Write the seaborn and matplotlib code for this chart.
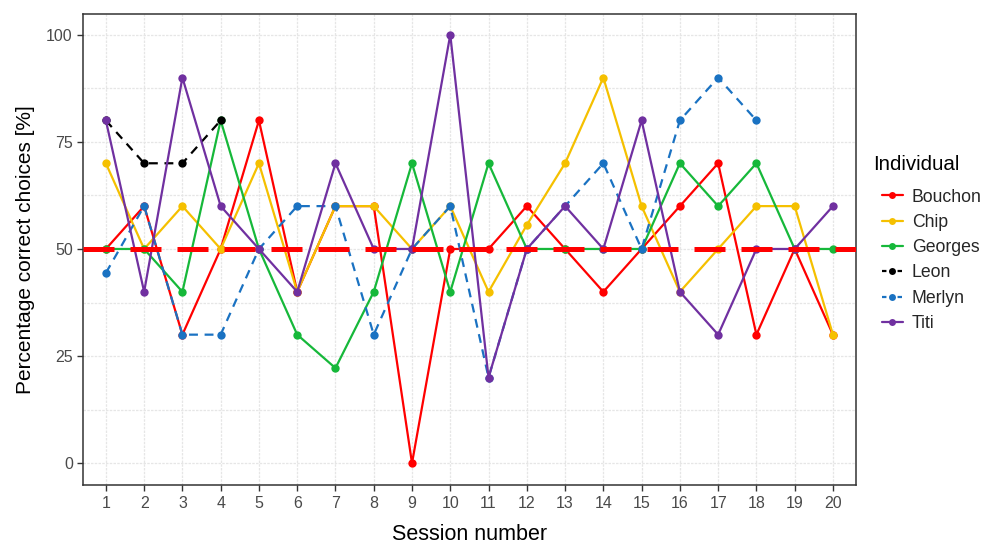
import numpy as np
import pandas as pd
import matplotlib
matplotlib.use("Agg")
import matplotlib.pyplot as plt
import seaborn as sns
from matplotlib.lines import Line2D

sessions = list(range(1, 21))
bouchon = [50, 60, 30, 50, 80, 40, 60, 60, 0, 50, 50, 60, 50, 40, 50, 60, 70, 30, 50, 30]
chip    = [70, 50, 60, 50, 70, 40, 60, 60, 50, 60, 40, 55.6, 70, 90, 60, 40, 50, 60, 60, 30]
georges = [50, 50, 40, 80, 50, 30, 22.2, 40, 70, 40, 70, 50, 50, 50, 50, 70, 60, 70, 50, 50]
leon    = [80, 70, 70, 80]
merlyn  = [44.4, 60, 30, 30, 50, 60, 60, 30, 50, 60, 20, 50, 60, 70, 50, 80, 90, 80]
titi    = [80, 40, 90, 60, 50, 40, 70, 50, 50, 100, 20, 50, 60, 50, 80, 40, 30, 50, 50, 60]

individuals = ["Bouchon", "Chip", "Georges", "Leon", "Merlyn", "Titi"]
series = [bouchon, chip, georges, leon, merlyn, titi]
colors = ["#FF0000", "#F5C000", "#16B83A", "#000000", "#1A72C2", "#7030A0"]
chance_level = 50

rows = []
for name, vals in zip(individuals, series):
    for s, v in zip(sessions, vals):
        rows.append({"Session": s, "Pct": v, "Individual": name})
df = pd.DataFrame(rows)

sns.set_theme(style="white")
plt.rcParams["font.family"] = ["Liberation Sans", "DejaVu Sans"]

fig = plt.figure(figsize=(9.88, 5.45), dpi=100)
ax = fig.add_axes([0.0843, 0.110, 0.782, 0.864])

palette = dict(zip(individuals, colors))
dashes = {"Bouchon": "", "Chip": "", "Georges": "", "Leon": (4, 3), "Merlyn": (4, 3), "Titi": ""}
markers = {n: "o" for n in individuals}

# grid
for y in np.arange(0, 101, 12.5):
    ax.axhline(y, color="#e6e6e6", lw=0.9, ls=(0, (2, 1)), zorder=0)
for x in sessions:
    ax.axvline(x, color="#e6e6e6", lw=0.9, ls=(0, (2, 1)), zorder=0)

sns.lineplot(data=df, x="Session", y="Pct", hue="Individual", style="Individual",
             palette=palette, dashes=dashes, markers=markers, markersize=6,
             markeredgewidth=0, linewidth=1.6, legend=False, ax=ax, zorder=3)

ax.axhline(chance_level, color="#FF0000", lw=3.6, ls=(0, (6.2, 3.2)), zorder=4)

ax.set_xlim(0.41, 20.6)
ax.set_ylim(-5.1, 104.8)
ax.set_xticks(sessions)
ax.set_xticklabels([str(s) for s in sessions])
ax.set_yticks([0, 25, 50, 75, 100])
ax.tick_params(axis="both", which="major", length=4, width=1, color="#333333",
               labelsize=11.5, labelcolor="#4a4a4a", direction="out",
               bottom=True, left=True)
ax.tick_params(axis="x", pad=4)
for sp in ax.spines.values():
    sp.set_color("#333333")
    sp.set_linewidth(1.1)

ax.set_xlabel("Session number", fontsize=15.5, color="black", labelpad=9)
ax.set_ylabel("Percentage correct choices [%]", fontsize=15, color="black", labelpad=8)

handles = []
for name, c in zip(individuals, colors):
    ls = (0, (2, 1.5)) if name in ("Leon", "Merlyn") else "-"
    handles.append(Line2D([0], [0], color=c, lw=1.6, ls=ls, marker="o", markersize=5,
                          markeredgewidth=0))
fig.text(873 / 988, 1 - 165 / 545, "Individual", fontsize=14.8, ha="left", va="center",
         color="black")
leg = fig.legend(handles, individuals, loc="upper left",
                 bbox_to_anchor=(0.889, 1 - 185 / 545), frameon=False, fontsize=12.7,
                 handlelength=1.2, handletextpad=0.5, labelspacing=0.47,
                 borderaxespad=0, borderpad=0.2)

fig.savefig("out.png", dpi=100)
